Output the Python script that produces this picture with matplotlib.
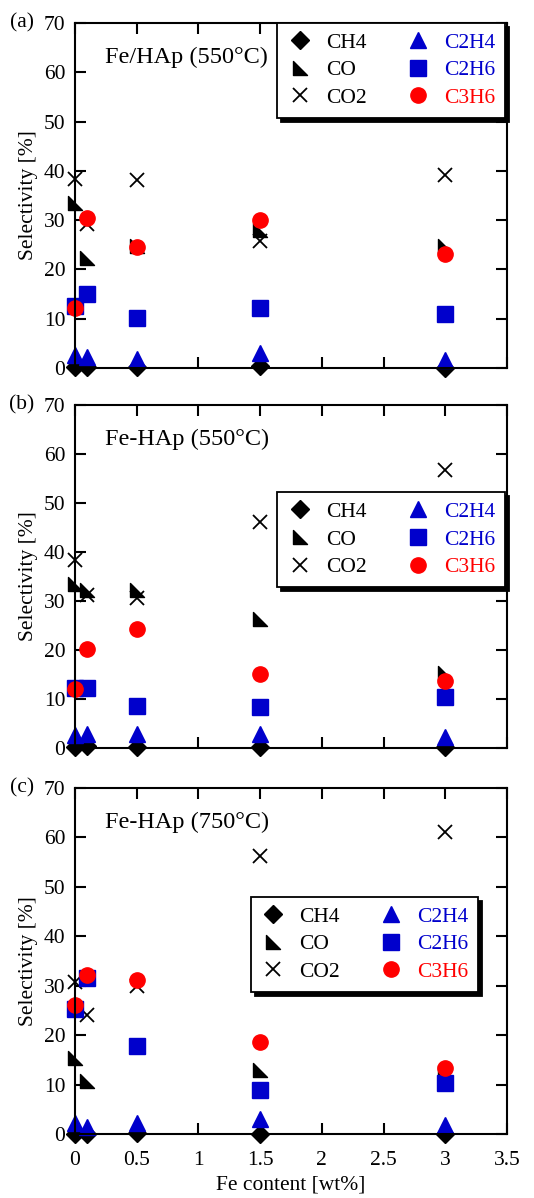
import numpy as np
import matplotlib.pyplot as plt
from matplotlib.path import Path

plt.rcParams['font.family'] = ['Liberation Serif', 'DejaVu Serif']

fe = [0, 0.1, 0.5, 1.5, 3]

# panel (a) Fe/HAp 550C
a_ch4 = [0.3, 0.2, 0.2, 0.5, 0.1]
a_co = [33.5, 22.3, 24.7, 28.0, 24.7]
a_co2 = [38.3, 29.3, 38.2, 25.7, 39.2]
a_c2h4 = [2.6, 2.2, 1.9, 3.1, 1.7]
a_c2h6 = [12.5, 15.1, 10.1, 12.2, 11.0]
a_c3h6 = [12.2, 30.4, 24.5, 30.0, 23.1]

# panel (b) Fe-HAp 550C
b_ch4 = [0.3, 0.5, 0.3, 0.2, 0.2]
b_co = [33.5, 32.3, 32.3, 26.3, 15.3]
b_co2 = [38.4, 31.3, 30.6, 46.2, 56.8]
b_c2h4 = [2.7, 2.8, 2.8, 2.8, 2.3]
b_c2h6 = [12.2, 12.2, 8.5, 8.4, 10.5]
b_c3h6 = [12.0, 20.2, 24.3, 15.1, 13.6]

# panel (c) Fe-HAp 750C
c_ch4 = [0.1, 0.0, 0.2, 0.1, 0.0]
c_co = [15.4, 10.7, 17.8, 13.0, 12.5]
c_co2 = [30.7, 24.1, 29.9, 56.2, 61.1]
c_c2h4 = [2.2, 1.5, 2.3, 3.0, 1.8]
c_c2h6 = [25.2, 31.6, 17.9, 9.0, 10.3]
c_c3h6 = [26.2, 32.1, 31.2, 18.7, 13.3]

names = ['CH4', 'CO', 'CO2', 'C2H4', 'C2H6', 'C3H6']
text_colors = ['black', 'black', 'black', '#0000cc', '#0000cc', 'red']

panels = [
    ('(a)', 'Fe/HAp (550\u00b0C)', [a_ch4, a_co, a_co2, a_c2h4, a_c2h6, a_c3h6]),
    ('(b)', 'Fe-HAp (550\u00b0C)', [b_ch4, b_co, b_co2, b_c2h4, b_c2h6, b_c3h6]),
    ('(c)', 'Fe-HAp (750\u00b0C)', [c_ch4, c_co, c_co2, c_c2h4, c_c2h6, c_c3h6]),
]

# right triangle marker (right angle bottom-left)
rtri = Path([(-1, 1), (-1, -1), (1, -1), (-1, 1)],
            [Path.MOVETO, Path.LINETO, Path.LINETO, Path.CLOSEPOLY])

styles = [
    dict(marker='D', color='black', ms=9.5),
    dict(marker=rtri, color='black', ms=10.5),
    dict(marker='x', color='black', ms=10.5, mew=1.3),
    dict(marker='^', color='#0000cc', ms=11),
    dict(marker='s', color='#0000cc', ms=11.5),
    dict(marker='o', color='red', ms=11),
]

axes_pos = [
    [0.1404, 0.6928, 0.809, 0.288],
    [0.1404, 0.3756, 0.809, 0.2863],
    [0.1404, 0.0534, 0.809, 0.2888],
]
leg_anchor = [(0.995, 1.0), (0.995, 0.746), (0.933, 0.685)]

fig = plt.figure(figsize=(5.34, 11.98), dpi=100)

for i, (tag, title, series) in enumerate(panels):
    ax = fig.add_axes(axes_pos[i])
    handles = []
    for name, vals, st in zip(names, series, styles):
        h, = ax.plot(fe, vals, linestyle='none', marker=st['marker'],
                     color=st['color'], markersize=st['ms'],
                     markeredgewidth=st.get('mew', 1.0), label=name,
                     clip_on=False)
        handles.append(h)
    ax.set_xlim(0, 3.5)
    ax.set_ylim(0, 70)
    ax.set_xticks(np.arange(0, 3.51, 0.5))
    ax.set_yticks(np.arange(0, 71, 10))
    ax.tick_params(direction='in', length=8, width=1.5, top=True, right=True,
                   labelsize=15.5)
    ax.tick_params(axis='y', pad=7)
    ax.tick_params(axis='x', pad=12)
    ax.set_xticklabels(['0', '0.5', '1', '1.5', '2', '2.5', '3', '3.5'])
    for s in ax.spines.values():
        s.set_linewidth(1.5)
    if i < 2:
        ax.tick_params(labelbottom=False)
    else:
        ax.set_xlabel('Fe content [wt%]', fontsize=15.5, labelpad=4)
    ax.set_ylabel('Selectivity [%]', fontsize=15.5, labelpad=4)
    ax.text(0.07, 0.9, title, transform=ax.transAxes, fontsize=17.5,
            va='center', ha='left')
    ax.text(-0.095, 1.0, tag, transform=ax.transAxes, fontsize=15.5,
            va='center', ha='right')
    leg = ax.legend(handles=handles, ncol=2, loc='upper right',
                    bbox_to_anchor=leg_anchor[i], borderaxespad=0,
                    fontsize=15.5, frameon=True, fancybox=False,
                    borderpad=0.45, labelspacing=0.35, columnspacing=1.8,
                    handlelength=1.2, handletextpad=0.6,
                    shadow={'color': 'black', 'alpha': 1, 'ox': 3, 'oy': -3})
    leg.get_frame().set_edgecolor('black')
    leg.get_frame().set_linewidth(1.3)
    for t, c in zip(leg.get_texts(), text_colors):
        t.set_color(c)

fig.savefig('out.png', dpi=100)
